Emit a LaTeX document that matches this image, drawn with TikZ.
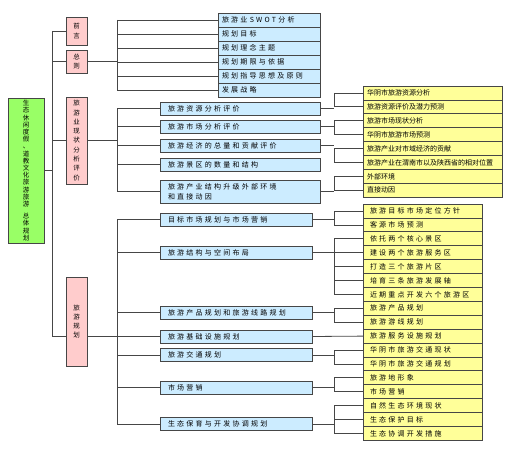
\documentclass[tikz,border=0pt]{standalone}
\usepackage{fontspec}
\newfontfamily\cjk{Noto Sans CJK SC}
\newfontfamily\cjksp[LetterSpace=32]{Noto Sans CJK SC}
\usetikzlibrary{positioning}
\definecolor{root_green}{RGB}{153,255,102}
\definecolor{sect_pink}{RGB}{255,204,204}
\definecolor{item_blue}{RGB}{204,236,255}
\definecolor{leaf_yellow}{RGB}{255,255,153}
\definecolor{edge_gray}{RGB}{70,70,70}

\begin{document}
\begin{tikzpicture}[x=1pt, y=-1pt,
  box/.style={draw=edge_gray, line width=0.8pt, inner sep=0pt, outer sep=0pt},
  rootbox/.style={box, fill=root_green, minimum width=36, minimum height=145, align=center, font=\cjk\fontsize{6.5}{7.2}\selectfont},
  sect/.style={box, fill=sect_pink, minimum width=21, align=center, font=\cjk\fontsize{6.5}{9.3}\selectfont},
  itemtop/.style={box, fill=item_blue, minimum height=14, inner xsep=4pt, text width=94pt, align=left, font=\cjksp\fontsize{7}{10}\selectfont},
  itemmid/.style={box, fill=item_blue, minimum height=13, inner xsep=8pt, text width=144pt, align=left, font=\cjksp\fontsize{7}{10}\selectfont},
  itemlow/.style={box, fill=item_blue, minimum height=13, inner xsep=8pt, text width=136pt, align=left, font=\cjksp\fontsize{7}{10}\selectfont},
  leaftop/.style={box, fill=leaf_yellow, minimum height=13.9, inner xsep=4pt, text width=131pt, align=left, font=\cjk\fontsize{7}{10}\selectfont},
  leaflow/.style={box, fill=leaf_yellow, minimum height=13.9, inner xsep=7pt, text width=105pt, align=left, font=\cjksp\fontsize{7}{10}\selectfont},
  link/.style={draw=edge_gray, line width=0.8pt}]
  \useasboundingbox (0,0) rectangle (510,454);

  % root and sections
  \node[rootbox] (root) at (26,170.5) {生\\态\\休\\闲\\度\\假\\、\\道\\教\\文\\化\\旅\\游\\旅\\游\\[5pt]总\\体\\规\\划};
  \node[sect, minimum height=28] (pre) at (76.5,31) {前\\言};
  \node[sect, minimum height=23] (gen) at (76.5,61.5) {总\\则};
  \node[sect, minimum height=87] (cur) at (76.5,140.5) {旅\\游\\业\\现\\状\\分\\析\\评\\价};
  \node[sect, minimum height=89] (plan) at (76.5,321.5) {旅\\游\\规\\划};

  % second level
  \node[itemtop] (a1) at (269,20) {旅游业 SWOT 分析};
  \node[itemtop, below=0pt of a1] (a2) {规划目标};
  \node[itemtop, below=0pt of a2] (a3) {规划理念主题};
  \node[itemtop, below=0pt of a3] (a4) {规划期限与依据};
  \node[itemtop, below=0pt of a4] (a5) {规划指导思想及原则};
  \node[itemtop, below=0pt of a5] (a6) {发展战略};

  \node[itemmid] (b1) at (240,108.5) {旅游资源分析评价};
  \node[itemmid] (b2) at (240,126.5) {旅游市场分析评价};
  \node[itemmid] (b3) at (240,145.5) {旅游经济的总量和贡献评价};
  \node[itemmid] (b4) at (240,164.5) {旅游景区的数量和结构};
  \node[itemmid, minimum height=23] (b5) at (240,191.5) {旅游产业结构升级外部环境\\和直接动因};

  \node[itemlow] (c1) at (236,219.5) {目标市场规划与市场营销};
  \node[itemlow] (c2) at (236,252.5) {旅游结构与空间布局};
  \node[itemlow] (c3) at (236,312.5) {旅游产品规划和旅游线路规划};
  \node[itemlow] (c4) at (236,336.5) {旅游基础设施规划};
  \node[itemlow] (c5) at (236,355) {旅游交通规划};
  \node[itemlow] (c6) at (236,387.5) {市场营销};
  \node[itemlow] (c7) at (236,424) {生态保育与开发协调规划};

  % third level
  \node[leaftop] (u1) at (432.5,93) {华阴市旅游资源分析};
  \node[leaftop, below=0pt of u1] (u2) {旅游资源评价及潜力预测};
  \node[leaftop, below=0pt of u2] (u3) {旅游市场现状分析};
  \node[leaftop, below=0pt of u3] (u4) {华阴市旅游市场预测};
  \node[leaftop, below=0pt of u4] (u5) {旅游产业对市域经济的贡献};
  \node[leaftop, below=0pt of u5] (u6) {旅游产业在渭南市以及陕西省的相对位置};
  \node[leaftop, below=0pt of u6] (u7) {外部环境};
  \node[leaftop, below=0pt of u7] (u8) {直接动因};

  \node[leaflow] (l1) at (422.5,211) {旅游目标市场定位方针};
  \node[leaflow, below=0pt of l1] (l2) {客源市场预测};
  \node[leaflow, below=0pt of l2] (l3) {依托两个核心景区};
  \node[leaflow, below=0pt of l3] (l4) {建设两个旅游服务区};
  \node[leaflow, below=0pt of l4] (l5) {打造三个旅游片区};
  \node[leaflow, below=0pt of l5] (l6) {培育三条旅游发展轴};
  \node[leaflow, below=0pt of l6] (l7) {近期重点开发六个旅游区};
  \node[leaflow, below=0pt of l7] (l8) {旅游产品规划};
  \node[leaflow, below=0pt of l8] (l9) {旅游游线规划};
  \node[leaflow, below=0pt of l9] (l10) {旅游服务设施规划};
  \node[leaflow, below=0pt of l10] (l11) {华阴市旅游交通现状};
  \node[leaflow, below=0pt of l11] (l12) {华阴市旅游交通规划};
  \node[leaflow, below=0pt of l12] (l13) {旅游地形象};
  \node[leaflow, below=0pt of l13] (l14) {市场营销};
  \node[leaflow, below=0pt of l14] (l15) {自然生态环境现状};
  \node[leaflow, below=0pt of l15] (l16) {生态保护目标};
  \node[leaflow, below=0pt of l16] (l17) {生态协调开发措施};

  % trunks
  \coordinate (tA) at (52,31);
  \coordinate (tB) at (52,336.5);
  \coordinate (colA) at (117,0);
  \coordinate (colB) at (334,0);

  \draw[link] (root.east) -- (root.east -| tA);
  \draw[link] (tA) -- (tB);
  \draw[link] (tA) -- (pre.west);
  \draw[link] (gen.west -| tA) -- (gen.west);
  \draw[link] (cur.west -| tA) -- (cur.west);
  \draw[link] (tB) -- (plan.west |- tB);

  \draw[link] (gen.east) -- (gen.east -| colA);
  \draw[link] (a1.west -| colA) -- (a6.west -| colA);
  \draw[link] (a1.west -| colA) -- (a1.west) (a2.west -| colA) -- (a2.west)
    (a3.west -| colA) -- (a3.west) (a4.west -| colA) -- (a4.west)
    (a5.west -| colA) -- (a5.west) (a6.west -| colA) -- (a6.west);

  \draw[link] (cur.east) -- (cur.east -| colA);
  \draw[link] (b1.west -| colA) -- (b5.west -| colA);
  \draw[link] (b1.west -| colA) -- (b1.west) (b2.west -| colA) -- (b2.west)
    (b3.west -| colA) -- (b3.west) (b4.west -| colA) -- (b4.west)
    (b5.west -| colA) -- (b5.west);

  \draw[link] (plan.east |- c4.west) -- (c4.west);
  \draw[link] (c1.west -| colA) -- (c7.west -| colA);
  \draw[link] (c1.west -| colA) -- (c1.west) (c2.west -| colA) -- (c2.west)
    (c3.west -| colA) -- (c3.west) (c5.west -| colA) -- (c5.west)
    (c6.west -| colA) -- (c6.west) (c7.west -| colA) -- (c7.west);

  % brackets to leaves
  \draw[link] (b1.east) -- (b1.east -| colB) (u1.west -| colB) |- (u1.west) (u1.west -| colB) |- (u2.west);
  \draw[link] (b2.east) -- (b2.east -| colB) (u3.west -| colB) |- (u3.west) (u3.west -| colB) |- (u4.west);
  \draw[link] (b3.east) -- (b3.east -| colB) (u5.west -| colB) |- (u5.west) (u5.west -| colB) |- (u6.west);
  \draw[link] (b5.east) -- (b5.east -| colB) (u7.west -| colB) |- (u7.west) (u7.west -| colB) |- (u8.west);

  \draw[link] (c1.east) -- (c1.east -| colB) (l1.west -| colB) -- (l1.west) (l1.west -| colB) |- (l2.west);
  \draw[link] (c2.east) -- (c2.east -| colB) (l3.west -| colB) -- (l3.west) (l3.west -| colB) |- (l4.west)
    (l3.west -| colB) |- (l5.west) (l3.west -| colB) |- (l6.west) (l3.west -| colB) |- (l7.west);
  \draw[link] (c3.east) -- (c3.east -| colB) (l8.west -| colB) -- (l8.west) (l8.west -| colB) |- (l9.west);
  \draw[link] (c4.east) -- (l10.west);
  \draw[link] (c5.east) -- (c5.east -| colB) (l11.west -| colB) -- (l11.west) (l11.west -| colB) |- (l12.west);
  \draw[link] (c6.east) -- (c6.east -| colB) (l13.west -| colB) -- (l13.west) (l13.west -| colB) |- (l14.west);
  \draw[link] (c7.east) -- (c7.east -| colB) (l15.west -| colB) -- (l15.west) (l15.west -| colB) |- (l16.west)
    (l15.west -| colB) |- (l17.west);
\end{tikzpicture}
\end{document}
